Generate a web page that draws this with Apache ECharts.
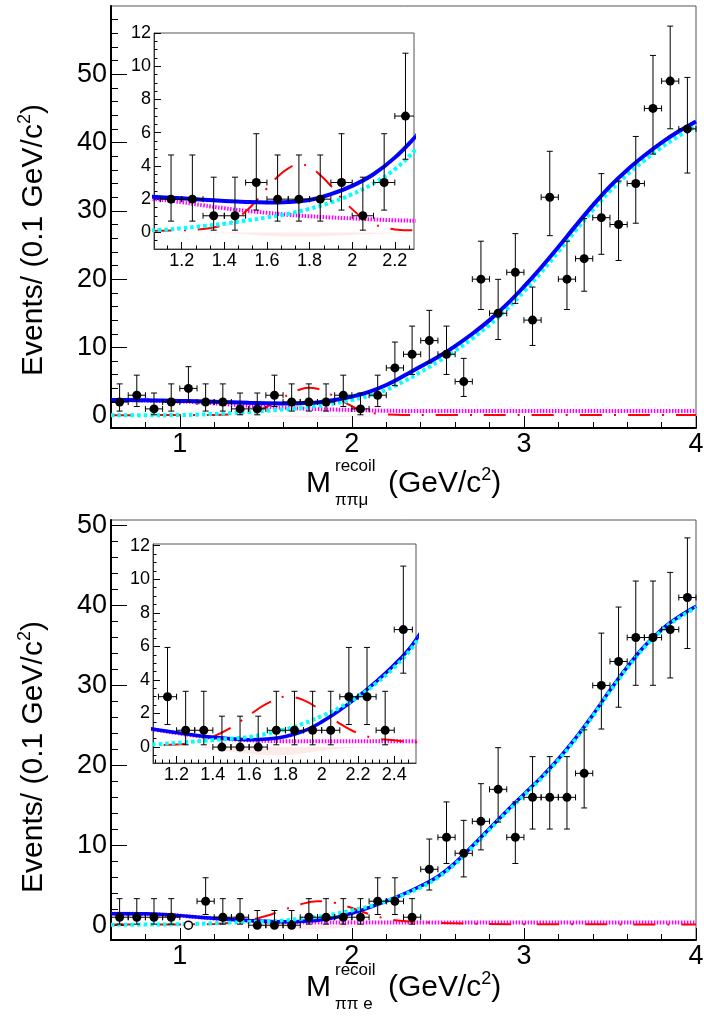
<!DOCTYPE html>
<html><head><meta charset="utf-8">
<script src="https://cdn.jsdelivr.net/npm/echarts@6/dist/echarts.min.js"></script>
<style>html,body{margin:0;padding:0;background:#fff}#c{width:704px;height:1019px}</style>
</head><body><div id="c"></div>
<script>
const FONT = "'Liberation Sans', Arial, Helvetica, sans-serif";

// ---------------- data ----------------
const binCenters = [0.65,0.75,0.85,0.95,1.05,1.15,1.25,1.35,1.45,1.55,1.65,1.75,1.85,1.95,2.05,2.15,2.25,2.35,2.45,2.55,2.65,2.75,2.85,2.95,3.05,3.15,3.25,3.35,3.45,3.55,3.65,3.75,3.85,3.95];
const binHalfWidth = 0.05;
const countsMu = [2,3,1,2,4,2,2,1,1,3,2,2,2,3,1,3,7,9,11,9,5,20,15,21,14,32,20,23,29,28,34,45,49,42];
const countsE  = [1,1,1,1,0,3,1,1,0,0,0,1,1,1,1,3,3,1,7,11,9,13,17,11,16,16,16,19,30,33,36,36,37,41];
const hollowBinsE = [1.05];

// muon panel curves
const totalMu = [[0.6,2.3],[0.7,2.3],[0.8,2.26],[0.9,2.22],[1.0,2.17],[1.1,2.12],[1.2,2.05],[1.3,1.97],[1.4,1.89],[1.5,1.83],[1.6,1.8],[1.7,1.83],[1.8,1.95],[1.9,2.3],[2.0,2.8],[2.1,3.5],[2.2,4.5],[2.3,5.8],[2.4,7.2],[2.5,8.6],[2.6,10.2],[2.7,12.0],[2.8,14.0],[2.9,16.3],[3.0,18.9],[3.1,21.7],[3.2,24.7],[3.3,27.8],[3.4,30.8],[3.5,33.6],[3.6,36.0],[3.7,38.1],[3.8,40.0],[3.9,41.65],[4.0,43.1]];
const signalMu = [[0.6,0.05],[0.8,0.07],[1.0,0.1],[1.1,0.15],[1.2,0.25],[1.3,0.38],[1.4,0.52],[1.5,0.7],[1.6,0.9],[1.7,1.12],[1.8,1.42],[1.9,1.8],[2.0,2.3],[2.1,2.95],[2.2,3.8],[2.3,5.0],[2.4,6.4],[2.5,7.9],[2.6,9.5],[2.7,11.3],[2.8,13.3],[2.9,15.6],[3.0,18.2],[3.1,21.0],[3.2,24.0],[3.3,27.1],[3.4,30.1],[3.5,32.9],[3.6,35.3],[3.7,37.4],[3.8,39.3],[3.9,40.95],[4.0,42.4]];
const bkgMu = [[0.6,2.32],[0.8,2.22],[1.0,2.08],[1.1,1.97],[1.2,1.82],[1.3,1.63],[1.4,1.45],[1.5,1.3],[1.6,1.18],[1.7,1.06],[1.8,0.97],[1.9,0.9],[2.0,0.84],[2.1,0.78],[2.2,0.73],[2.3,0.7],[2.5,0.68],[3.0,0.68],[3.5,0.68],[4.0,0.68]];
const peakMu = [[0.6,0.08],[1.0,0.1],[1.2,0.12],[1.3,0.2],[1.35,0.3],[1.4,0.45],[1.45,0.75],[1.5,1.25],[1.55,1.9],[1.6,2.65],[1.65,3.35],[1.7,3.85],[1.75,4.1],[1.8,3.95],[1.85,3.45],[1.9,2.8],[1.95,2.05],[2.0,1.4],[2.05,0.85],[2.1,0.5],[2.15,0.3],[2.2,0.18],[2.3,0.12],[2.5,0.12],[3.0,0.12],[4.0,0.12]];
const shadeMu = [[1.25,0],[1.4,-0.05],[1.5,-0.12],[1.6,-0.2],[1.7,-0.25],[1.8,-0.25],[1.9,-0.2],[2.0,-0.15],[2.1,-0.1],[2.2,-0.05],[2.3,-0.02],[2.5,0]];

// electron panel curves
const totalE = [[0.6,1.45],[0.7,1.45],[0.8,1.42],[0.9,1.33],[1.0,1.2],[1.1,1.02],[1.2,0.86],[1.3,0.71],[1.4,0.59],[1.5,0.49],[1.6,0.44],[1.7,0.48],[1.8,0.63],[1.9,0.95],[2.0,1.5],[2.1,2.2],[2.2,3.0],[2.3,3.9],[2.4,4.9],[2.5,6.1],[2.6,7.8],[2.7,9.9],[2.8,12.1],[2.9,14.3],[3.0,16.4],[3.1,18.5],[3.2,20.8],[3.3,23.4],[3.4,26.3],[3.5,29.4],[3.6,32.3],[3.7,34.9],[3.8,37.0],[3.9,38.6],[4.0,39.9]];
const signalE = [[0.6,0.05],[0.8,0.08],[1.0,0.12],[1.1,0.17],[1.2,0.25],[1.3,0.33],[1.4,0.42],[1.5,0.5],[1.6,0.6],[1.7,0.8],[1.8,1.05],[1.9,1.4],[2.0,1.85],[2.1,2.35],[2.2,3.0],[2.3,3.8],[2.4,4.75],[2.5,5.95],[2.6,7.65],[2.7,9.75],[2.8,11.95],[2.9,14.15],[3.0,16.25],[3.1,18.35],[3.2,20.65],[3.3,23.25],[3.4,26.15],[3.5,29.25],[3.6,32.15],[3.7,34.75],[3.8,36.85],[3.9,38.45],[4.0,39.75]];
const bkgE = [[0.6,1.45],[0.8,1.4],[0.9,1.32],[1.0,1.2],[1.1,1.0],[1.2,0.83],[1.3,0.68],[1.4,0.56],[1.5,0.47],[1.6,0.41],[1.7,0.37],[1.8,0.35],[2.0,0.34],[2.5,0.34],[3.0,0.34],[4.0,0.34]];
const peakE = [[0.6,0.08],[1.0,0.1],[1.2,0.15],[1.3,0.3],[1.4,0.62],[1.5,1.15],[1.6,1.9],[1.7,2.6],[1.8,3.0],[1.9,2.8],[2.0,2.15],[2.1,1.4],[2.2,0.82],[2.3,0.52],[2.4,0.4],[2.5,0.3],[3.0,0.12],[4.0,0.1]];
const shadeE = [[1.3,0],[1.4,-0.12],[1.5,-0.28],[1.6,-0.42],[1.7,-0.5],[1.8,-0.48],[1.9,-0.38],[2.0,-0.22],[2.1,-0.1],[2.2,-0.04],[2.5,0]];

// tick labels
const mainXLabels = [1,2,3,4];
const mainYLabels = [0,10,20,30,40,50];
const insetYLabels = [0,2,4,6,8,10,12];
const insetXLabelsMu = [1.2,1.4,1.6,1.8,2,2.2];
const insetXLabelsE = [1.2,1.4,1.6,1.8,2,2.2,2.4];

// axis ranges
const mainXRange = [0.6, 4.0];
const muYRange = [-1.8, 60];
const eYRange = [-1.85, 50.7];
const insetMuX = [1.07, 2.29];
const insetMuY = [-1, 12];
const insetEX = [1.07, 2.52];
const insetEY = [-0.95, 12.1];

// ---------------- helpers ----------------
function steps(a, b, s, exclude) {
  const out = [];
  for (let k = 0; ; k++) {
    const v = +(a + k * s).toFixed(4);
    if (v > b + 1e-9) break;
    if (!exclude.some(e => Math.abs(e - v) < 1e-6)) out.push(v);
  }
  return out;
}
// Poisson (Garwood-like) asymmetric interval for a count
function poissonBand(n) {
  if (n === 0) return [0, 1.84];
  return [n - Math.sqrt(n - 0.25), n + 1 + Math.sqrt(n + 0.75)];
}
function errData(counts, range, skip) {
  const out = [];
  binCenters.forEach((x, i) => {
    if (x < range[0] || x > range[1]) return;
    if (skip && skip.indexOf(x) >= 0) return;
    const b = poissonBand(counts[i]);
    out.push([x, counts[i], b[0], b[1]]);
  });
  return out;
}
function pointData(counts, range, skip) {
  const out = [];
  binCenters.forEach((x, i) => {
    if (x < range[0] || x > range[1]) return;
    if (skip && skip.indexOf(x) >= 0) return;
    out.push([x, counts[i]]);
  });
  return out;
}
function errRender(params, api) {
  const cs = params.coordSys;
  const x = api.value(0), y = api.value(1), lo = api.value(2), hi = api.value(3);
  const p = api.coord([x, y]);
  const pl = api.coord([x - binHalfWidth, y]), pr = api.coord([x + binHalfWidth, y]);
  const pt = api.coord([x, hi]), pb = api.coord([x, lo]);
  const X0 = cs.x, X1 = cs.x + cs.width, Y0 = cs.y, Y1 = cs.y + cs.height;
  const cl = (v, a, b) => Math.max(a, Math.min(b, v));
  const st = { stroke: '#000', lineWidth: 1 };
  const ch = [];
  const cap = 3;
  const hx0 = cl(pl[0], X0, X1), hx1 = cl(pr[0], X0, X1);
  if (hx1 > hx0 && p[1] >= Y0 && p[1] <= Y1) {
    ch.push({ type: 'line', shape: { x1: hx0, y1: p[1], x2: hx1, y2: p[1] }, style: st });
    if (pl[0] >= X0) ch.push({ type: 'line', shape: { x1: pl[0], y1: p[1] - cap, x2: pl[0], y2: p[1] + cap }, style: st });
    if (pr[0] <= X1) ch.push({ type: 'line', shape: { x1: pr[0], y1: p[1] - cap, x2: pr[0], y2: p[1] + cap }, style: st });
  }
  if (p[0] >= X0 && p[0] <= X1) {
    const vy0 = cl(pt[1], Y0, Y1), vy1 = cl(pb[1], Y0, Y1);
    ch.push({ type: 'line', shape: { x1: p[0], y1: vy0, x2: p[0], y2: vy1 }, style: st });
    if (pt[1] >= Y0) ch.push({ type: 'line', shape: { x1: p[0] - cap, y1: pt[1], x2: p[0] + cap, y2: pt[1] }, style: st });
    if (lo < y && pb[1] <= Y1) ch.push({ type: 'line', shape: { x1: p[0] - cap, y1: pb[1], x2: p[0] + cap, y2: pb[1] }, style: st });
  }
  return { type: 'group', children: ch };
}

function axis(dim, grid, range, labels, ticks, len, o) {
  return {
    type: 'value', gridIndex: grid, min: range[0], max: range[1],
    position: dim === 'x' ? 'bottom' : 'left',
    axisLine: { show: !!o.line, onZero: false, lineStyle: { color: o.lineColor || '#000', width: o.lineWidth || 1 } },
    axisTick: { show: true, inside: true, length: len, customValues: ticks, lineStyle: { color: '#000', width: 1 } },
    axisLabel: labels ? { show: true, customValues: labels, fontSize: o.fs, fontFamily: FONT, color: '#000', margin: o.margin, formatter: v => String(v) } : { show: false },
    splitLine: { show: false },
    minorTick: { show: false },
    z: o.z || 0
  };
}

const MAIN = { line: true, lineColor: '#000', lineWidth: 2, fs: 27, margin: 4 };
const INSET = { line: true, lineColor: '#333', lineWidth: 1, fs: 18, margin: 3 };

const xAxes = [
  axis('x', 0, mainXRange, mainXLabels, mainXLabels, 12, Object.assign({}, MAIN, { margin: 3 })),
  axis('x', 1, insetMuX, insetXLabelsMu, insetXLabelsMu, 7, INSET),
  axis('x', 2, mainXRange, mainXLabels, mainXLabels, 12, Object.assign({}, MAIN, { margin: 3 })),
  axis('x', 3, insetEX, insetXLabelsE, insetXLabelsE, 7, INSET),
  axis('x', 0, mainXRange, null, steps(0.8, 3.8, 0.2, mainXLabels), 6, {}),
  axis('x', 1, insetMuX, null, steps(1.1333, 2.2667, 0.2 / 3, insetXLabelsMu), 3.5, {}),
  axis('x', 2, mainXRange, null, steps(0.8, 3.8, 0.2, mainXLabels), 6, {}),
  axis('x', 3, insetEX, null, steps(1.08, 2.48, 0.04, insetXLabelsE), 3.5, {})
];
const yAxes = [
  axis('y', 0, muYRange, mainYLabels, mainYLabels, 16, MAIN),
  axis('y', 1, insetMuY, insetYLabels, insetYLabels, 7, INSET),
  axis('y', 2, eYRange, mainYLabels, mainYLabels, 16, MAIN),
  axis('y', 3, insetEY, insetYLabels, insetYLabels, 7, INSET),
  axis('y', 0, muYRange, null, steps(2, 58, 2, mainYLabels), 7, {}),
  axis('y', 1, insetMuY, null, steps(-0.5, 11.5, 0.5, insetYLabels), 3.5, {}),
  axis('y', 2, eYRange, null, steps(2, 48, 2, mainYLabels), 7, {}),
  axis('y', 3, insetEY, null, steps(-0.5, 11.5, 0.5, insetYLabels), 3.5, {})
];

function curve(data, gi, color, width, type, z) {
  return { type: 'line', xAxisIndex: gi, yAxisIndex: gi, data: data, showSymbol: false, symbol: 'none',
    smooth: 0.4, clip: true, silent: true, z: z,
    lineStyle: { color: color, width: width, type: type, cap: 'butt', opacity: 1 } };
}
function shade(data, gi) {
  return { type: 'line', xAxisIndex: gi, yAxisIndex: gi, data: data, showSymbol: false, symbol: 'none',
    smooth: 0.4, clip: true, silent: true, z: 1, lineStyle: { width: 0, opacity: 0 },
    areaStyle: { color: 'rgba(255,120,120,0.22)', origin: 0 } };
}
const RED_DASH = [22, 12, 2, 12];
function panelSeries(gi, xr, counts, total, signal, bkg, peak, sh, blueW, blueOnTop, hollow) {
  const s = [
    shade(sh, gi),
    curve(bkg, gi, '#ff00ff', 4, [1.5, 1.5], 2),
    curve(peak, gi, '#ff0000', 2, RED_DASH, 3),
    curve(signal, gi, '#00ffff', 4, [3.5, 3], blueOnTop ? 4 : 5),
    curve(total, gi, '#0000ff', blueW, 'solid', blueOnTop ? 5 : 4),
    { type: 'custom', xAxisIndex: gi, yAxisIndex: gi, renderItem: errRender, data: errData(counts, xr, hollow),
      encode: { x: 0, y: 1 }, silent: true, z: 8 },
    { type: 'scatter', xAxisIndex: gi, yAxisIndex: gi, data: pointData(counts, xr, hollow), symbol: 'circle',
      symbolSize: 9, itemStyle: { color: '#000', opacity: 1 }, silent: true, z: 9 }
  ];
  if (hollow) {
    const hp = [];
    binCenters.forEach((x, i) => { if (hollow.indexOf(x) >= 0 && x >= xr[0] && x <= xr[1]) hp.push([x, counts[i]]); });
    s.push({ type: 'scatter', xAxisIndex: gi, yAxisIndex: gi, data: hp, symbol: 'circle', symbolSize: 8,
      itemStyle: { color: '#fff', borderColor: '#000', borderWidth: 1.5, opacity: 1 }, silent: true, z: 9 });
  }
  return s;
}

const series = [].concat(
  panelSeries(0, mainXRange, countsMu, totalMu, signalMu, bkgMu, peakMu, shadeMu, 4, true, null),
  panelSeries(1, insetMuX, countsMu, totalMu, signalMu, bkgMu, peakMu, shadeMu, 4, true, null),
  panelSeries(2, mainXRange, countsE, totalE, signalE, bkgE, peakE, shadeE, 3.5, false, hollowBinsE),
  panelSeries(3, insetEX, countsE, totalE, signalE, bkgE, peakE, shadeE, 3.5, false, hollowBinsE)
);

function gridBox(l, t, w, h) {
  return { left: l, top: t, width: w, height: h, show: true, borderColor: '#555', borderWidth: 1,
    backgroundColor: 'transparent', containLabel: false, outerBoundsMode: 'none' };
}

function yTitle(cy) {
  return { type: 'text', x: 34, y: cy, rotation: Math.PI / 2, silent: true,
    style: { text: '{t|Events/ (0.1 GeV/c}{s|2}{t|)}', align: 'center', verticalAlign: 'middle',
      rich: { t: { fontSize: 30, fontFamily: FONT, fill: '#000', color: '#000', lineHeight: 36 },
              s: { fontSize: 18, fontFamily: FONT, fill: '#000', color: '#000', lineHeight: 22, verticalAlign: 'top' } } } };
}
function xTitle(cy, sub) {
  const t = (txt, x, y, fs) => ({ type: 'text', x: x, y: y, silent: true,
    style: { text: txt, fontSize: fs, fontFamily: FONT, fill: '#000', align: 'left', verticalAlign: 'middle' } });
  return [
    t('M', 306, cy, 30),
    t('recoil', 335, cy - 18, 17),
    t(sub, 335, cy + 16, 17),
    { type: 'text', x: 388, y: cy, silent: true,
      style: { text: '{t|(GeV/c}{s|2}{t|)}', align: 'left', verticalAlign: 'middle',
        rich: { t: { fontSize: 30, fontFamily: FONT, fill: '#000', color: '#000', lineHeight: 36 },
                s: { fontSize: 18, fontFamily: FONT, fill: '#000', color: '#000', lineHeight: 22, verticalAlign: 'top' } } } }
  ];
}

const chart = echarts.init(document.getElementById('c'), null, { renderer: 'canvas' });
chart.setOption({
  animation: false,
  backgroundColor: '#fff',
  textStyle: { fontFamily: FONT },
  grid: [gridBox(111, 6, 585, 422), gridBox(154, 33, 260, 216), gridBox(111, 520, 585, 420), gridBox(153, 544, 263, 219)],
  xAxis: xAxes,
  yAxis: yAxes,
  series: series,
  graphic: [yTitle(240), yTitle(757)].concat(xTitle(484, 'ππμ'), xTitle(988, 'ππ e'))
});
</script>
</body></html>
